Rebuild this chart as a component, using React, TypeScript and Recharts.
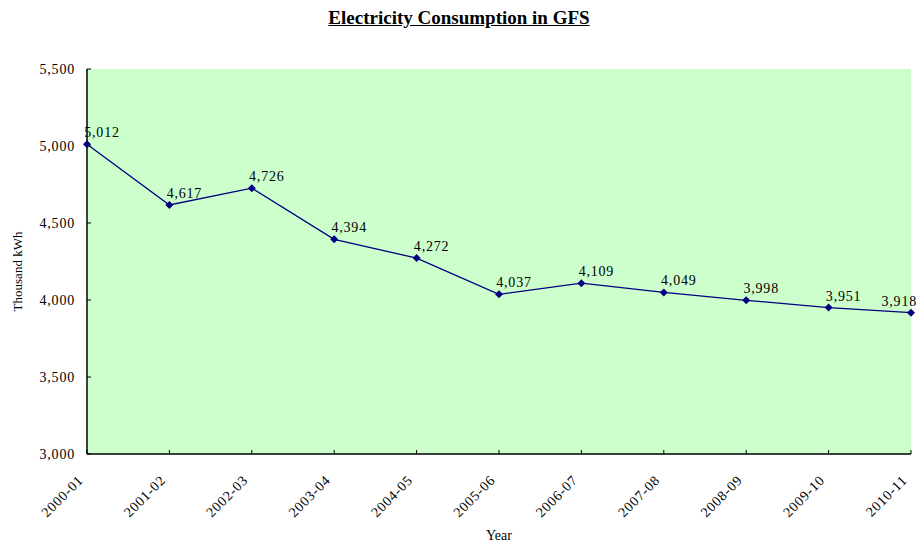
import { LineChart, Line, XAxis, YAxis, CartesianGrid, Label } from 'recharts';

const years = ['2000-01', '2001-02', '2002-03', '2003-04', '2004-05', '2005-06', '2006-07', '2007-08', '2008-09', '2009-10', '2010-11'];
const consumption = [5012, 4617, 4726, 4394, 4272, 4037, 4109, 4049, 3998, 3951, 3918];
const yTicks = [3000, 3500, 4000, 4500, 5000, 5500];

const data = years.map((year, i) => ({ year, value: consumption[i] }));

const FONT = '"Liberation Serif", "Times New Roman", serif';
const LINE_COLOR = '#000080';

const fmt = (v: number) => v.toLocaleString('en-US');

const XTick = (props: any) => {
    const { x, y, payload } = props;
    const ax = x - 3;
    const ay = y + 29;
    return (
        <text
            x={ax}
            y={ay}
            transform={`rotate(-45, ${ax}, ${ay})`}
            textAnchor="end"
            fontFamily={FONT}
            fontSize={14}
            letterSpacing={0.8}
            fill="#000"
        >
            {payload.value}
        </text>
    );
};

const YTick = (props: any) => {
    const { x, y, payload } = props;
    return (
        <text x={x - 14} y={y + 5} textAnchor="end" fontFamily={FONT} fontSize={14} letterSpacing={0.8} fill="#000">
            {fmt(payload.value)}
        </text>
    );
};

const PointLabel = (props: any) => {
    const { x, y, value, index } = props;
    const last = index === years.length - 1;
    return (
        <text
            x={last ? x + 6 : x + 15}
            y={y - 7}
            textAnchor={last ? 'end' : 'middle'}
            fontFamily={FONT}
            fontSize={14}
            letterSpacing={0.8}
            fill="#000"
        >
            {fmt(value)}
        </text>
    );
};

const Diamond = (props: any) => {
    const { cx, cy } = props;
    if (cx == null || cy == null) return null;
    return <path d={`M${cx},${cy - 4}L${cx + 4},${cy}L${cx},${cy + 4}L${cx - 4},${cy}Z`} fill={LINE_COLOR} />;
};

export default function App() {
    return (
        <div style={{ position: 'absolute', left: 0, top: 0, width: 918, height: 544, background: '#fff' }}>
            <div
                style={{
                    position: 'absolute',
                    left: 0,
                    top: 7,
                    width: 918,
                    textAlign: 'center',
                    fontFamily: FONT,
                    fontWeight: 'bold',
                    fontSize: 19,
                    textDecoration: 'underline',
                    color: '#000'
                }}
            >
                Electricity Consumption in GFS
            </div>
            <LineChart width={918} height={544} data={data} margin={{ top: 69, right: 7, bottom: 0, left: 0 }}>
                <CartesianGrid
                    horizontal={false}
                    vertical={false}
                    fill="#CCFFCC"
                    stroke="#808080"
                />
                <XAxis
                    dataKey="year"
                    height={90}
                    tick={<XTick />}
                    tickLine={{ stroke: '#000' }}
                    tickSize={-4}
                    axisLine={{ stroke: '#000', strokeWidth: 1.5 }}
                    interval={0}
                    padding={{ left: 0, right: 0 }}
                >
                    <Label
                        value="Year"
                        position="insideBottom"
                        offset={4}
                        style={{ fontFamily: FONT, fontSize: 14, fill: '#000' }}
                    />
                </XAxis>
                <YAxis
                    width={87}
                    domain={[3000, 5500]}
                    ticks={yTicks}
                    tick={<YTick />}
                    tickLine={{ stroke: '#000' }}
                    tickSize={-4}
                    axisLine={{ stroke: '#000', strokeWidth: 1.5 }}
                    interval={0}
                >
                    <Label
                        value="Thousand kWh"
                        angle={-90}
                        position="insideLeft"
                        offset={17}
                        dy={10}
                        style={{ fontFamily: FONT, fontSize: 13, fill: '#000', textAnchor: 'middle' }}
                    />
                </YAxis>
                <Line
                    type="linear"
                    dataKey="value"
                    stroke={LINE_COLOR}
                    strokeWidth={1.3}
                    dot={<Diamond />}
                    activeDot={false}
                    label={<PointLabel />}
                    isAnimationActive={false}
                />
            </LineChart>
        </div>
    );
}
